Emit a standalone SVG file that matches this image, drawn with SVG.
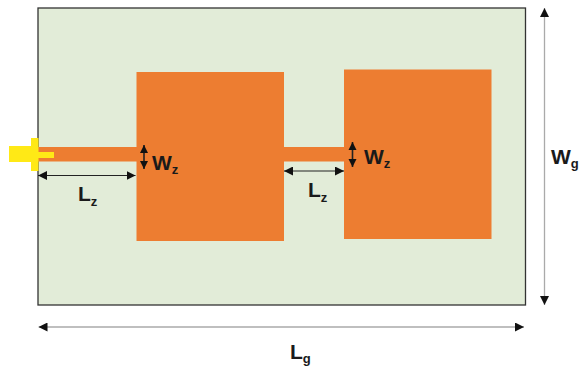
<svg xmlns="http://www.w3.org/2000/svg" width="579" height="370" viewBox="0 0 579 370">
<style>
.lbl{font-family:"Liberation Sans",Arial,sans-serif;font-size:21px;fill:#1a1a1a;font-weight:bold}
.sub{font-size:13px;font-weight:bold}
.patch{fill:#ed7d31}
.dim{stroke:#222;stroke-width:1.2;fill:none}
.dimw{stroke:#222;stroke-width:1.6;fill:none}
.dimg{stroke:#aaa;stroke-width:1.300;fill:none}
</style>
<defs>
<marker id="a" viewBox="0 0 10 10" refX="10" refY="5" markerWidth="9" markerHeight="9" markerUnits="userSpaceOnUse" orient="auto-start-reverse"><path d="M0 0L10 5L0 10z" fill="#111"/></marker>
<marker id="b" viewBox="0 0 10 10" refX="10" refY="5" markerWidth="8" markerHeight="10" markerUnits="userSpaceOnUse" orient="auto-start-reverse"><path d="M0 0L10 5L0 10z" fill="#111"/></marker>
</defs>
<rect width="579" height="370" fill="#fff"/>
<g id="ground"><rect x="38" y="8" width="487.500" height="297" fill="#e2ecd8" stroke="#333" stroke-width="1.300"/></g>
<g id="patch1"><rect class="patch" x="136.500" y="72" width="147.500" height="169"/></g>
<g id="patch2"><rect class="patch" x="344" y="69.500" width="147.500" height="169.500"/></g>
<g id="line1"><rect class="patch" x="38" y="147" width="99" height="14.500"/></g>
<g id="line2"><rect class="patch" x="283" y="147" width="62" height="14.500"/></g>
<g id="connector"><path d="M9 146H31V138H38.500V152H54V158H38.500V171H31V162H9z" fill="#ffe916"/></g>
<g id="connectors">
<path class="dim" d="M38 175.500H135.500" marker-start="url(#a)" marker-end="url(#a)"/>
<path class="dim" d="M284 171H344" marker-start="url(#a)" marker-end="url(#a)"/>
<path class="dimw" d="M144 145V169" marker-start="url(#b)" marker-end="url(#b)"/>
<path class="dimw" d="M352.500 142V167" marker-start="url(#b)" marker-end="url(#b)"/>
<path class="dimg" d="M544.500 8V305" marker-start="url(#a)" marker-end="url(#a)"/>
<path class="dimg" d="M38.500 327H524" marker-start="url(#a)" marker-end="url(#a)"/>
</g>
<g id="labels">
<text class="lbl" x="152" y="170">W<tspan class="sub" dy="4">z</tspan></text>
<text class="lbl" x="78" y="201">L<tspan class="sub" dy="5">z</tspan></text>
<text class="lbl" x="364" y="164">W<tspan class="sub" dy="4">z</tspan></text>
<text class="lbl" x="308" y="197">L<tspan class="sub" dy="5">z</tspan></text>
<text class="lbl" x="551" y="164">W<tspan class="sub" dy="4">g</tspan></text>
<text class="lbl" x="290" y="359">L<tspan class="sub" dy="4">g</tspan></text>
</g>
</svg>
